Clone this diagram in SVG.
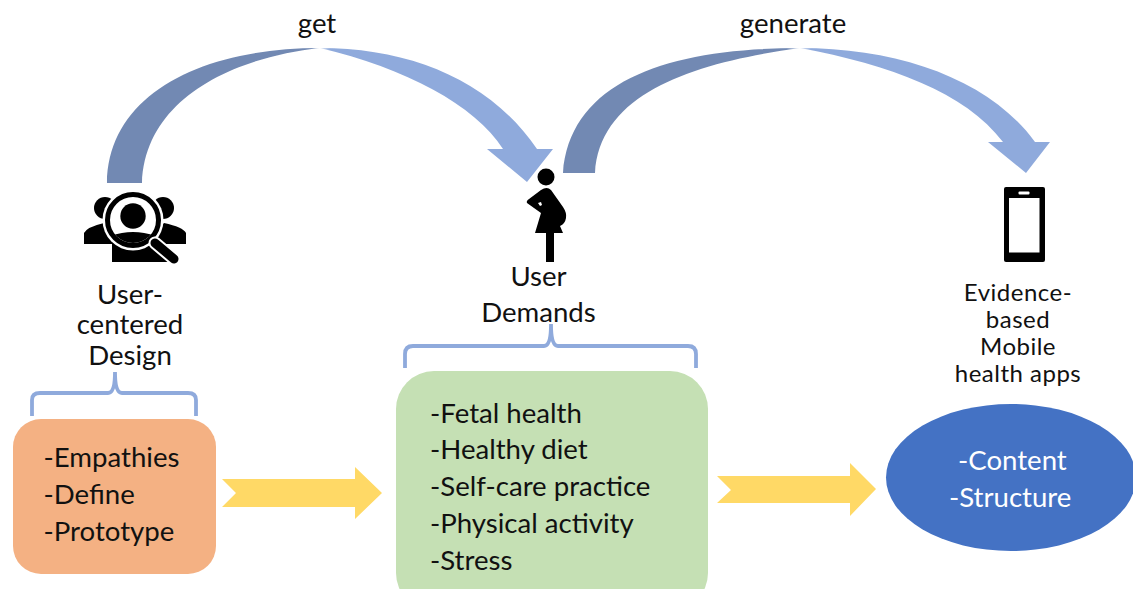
<svg xmlns="http://www.w3.org/2000/svg" width="1133" height="589" viewBox="0 0 1133 589">
<defs>
<linearGradient id="a1" gradientUnits="userSpaceOnUse" x1="107" y1="0" x2="553" y2="0"><stop offset="0" stop-color="#7289b3"/><stop offset="0.46" stop-color="#7289b3"/><stop offset="0.478" stop-color="#dfe7f5"/><stop offset="0.5" stop-color="#8faadc"/><stop offset="1" stop-color="#8faadc"/></linearGradient>
<linearGradient id="a2" gradientUnits="userSpaceOnUse" x1="563" y1="0" x2="1050" y2="0"><stop offset="0" stop-color="#7289b3"/><stop offset="0.46" stop-color="#7289b3"/><stop offset="0.485" stop-color="#dfe7f5"/><stop offset="0.51" stop-color="#8faadc"/><stop offset="1" stop-color="#8faadc"/></linearGradient>
<clipPath id="lens"><circle cx="133" cy="220" r="23"/></clipPath>
</defs>
<style>
text{font-family:Lato,"Open Sans",sans-serif;font-size:27.6px;fill:#111}
.m{text-anchor:middle}
.w{fill:#fff}
.s{font-size:24px;letter-spacing:.5px}
.b{fill:none;stroke:#8faadc;stroke-width:3.8}
.y{fill:#ffd966}
</style>
<rect width="1133" height="589" fill="#fff"/>
<g id="connectors">
<path id="arc-get" fill="url(#a1)" d="M107 183C108 95 200 48 320 48C410 48 490 80 537 149H553L527 182L487 149H503C475 105 405 68 320 48C230 58 145 100 142 183Z"/>
<path id="arc-generate" fill="url(#a2)" d="M563 173C570 80 670 48 800 48C900 48 990 80 1035 142H1050L1026 173L988 142H1003C965 92 890 65 800 48C700 62 600 90 595 173Z"/>
<path id="arrow-1" class="y" d="M222 479H355V467L382 493L355 519V507H222L236 493Z"/>
<path id="arrow-2" class="y" d="M717 476H850V463L876 489L850 516V503H717L731 490Z"/>
<path class="b" d="M32 416V400Q32 393 40 393H108Q115 393 115 372Q115 393 122 393H188Q196 393 196 400V416"/>
<path class="b" d="M405 368V354Q405 346 413 346H544Q551 346 551 324Q551 346 558 346H688Q696 346 696 354V368"/>
</g>
<g id="user-centered-design">
<g id="icon-users">
<circle cx="105" cy="208" r="11"/><circle cx="163" cy="208" r="11"/>
<path d="M84 244V233Q87 227 104 223L125 244ZM186 244V233Q183 227 164 223L143 244Z"/>
<path d="M112 262V240H157L172 262Z"/>
<circle cx="133" cy="220" r="30.500" fill="#fff"/>
<circle cx="133" cy="220" r="25.500" fill="#fff" stroke="#000" stroke-width="5"/>
<circle cx="133" cy="216" r="12.700"/>
<path clip-path="url(#lens)" d="M105 250V238Q120 232 133 232Q146 232 161 238V250Z"/>
<path d="M155 243L174 259" stroke="#fff" stroke-width="13" stroke-linecap="round"/>
<path d="M155 243L174 259" stroke="#000" stroke-width="9" stroke-linecap="round"/>
</g>
<text class="m" x="130" y="304">User-</text>
<text class="m" x="130" y="334">centered</text>
<text class="m" x="130" y="365">Design</text>
<rect x="13" y="419" width="203" height="155" rx="28" fill="#f4b183"/>
<text x="43.500" y="467">-Empathies</text>
<text x="43.500" y="504">-Define</text>
<text x="43.500" y="541">-Prototype</text>
</g>
<g id="user-demands">
<g id="icon-pregnant">
<circle cx="546" cy="177" r="8.500"/>
<path fill-rule="evenodd" d="M541 190Q547 186 551 190L563 207Q567 213 566 218Q565 224 560 226L563 233H535L541 213L527 203Q526 201 529 199ZM538 203L541 202L542 205L540 206Z"/>
<rect x="546" y="233" width="8" height="29"/>
</g>
<text class="m" x="538.500" y="286">User</text>
<text class="m" x="538.500" y="322">Demands</text>
<rect x="396" y="371" width="312" height="240" rx="38" fill="#c5e0b4"/>
<text x="430" y="423">-Fetal health</text>
<text x="430" y="459">-Healthy diet</text>
<text x="430" y="496">-Self-care practice</text>
<text x="430" y="533">-Physical activity</text>
<text x="430" y="570">-Stress</text>
</g>
<g id="mobile-apps">
<g id="icon-phone">
<rect x="1004" y="187" width="41" height="75" rx="2"/>
<rect x="1009" y="198" width="30.500" height="54.500" fill="#fff"/>
<rect x="1018.500" y="191.500" width="11" height="3" rx="1" fill="#fff"/>
</g>
<text class="m s" x="1018" y="301">Evidence-</text>
<text class="m s" x="1018" y="328">based</text>
<text class="m s" x="1018" y="355">Mobile</text>
<text class="m s" x="1018" y="382">health apps</text>
<ellipse cx="1011" cy="477.500" rx="125" ry="73.500" fill="#4472c4"/>
<text class="w" x="958" y="470">-Content</text>
<text class="w" x="949" y="507">-Structure</text>
</g>
<text class="m" x="317" y="33">get</text>
<text class="m" x="793" y="33">generate</text>
</svg>
